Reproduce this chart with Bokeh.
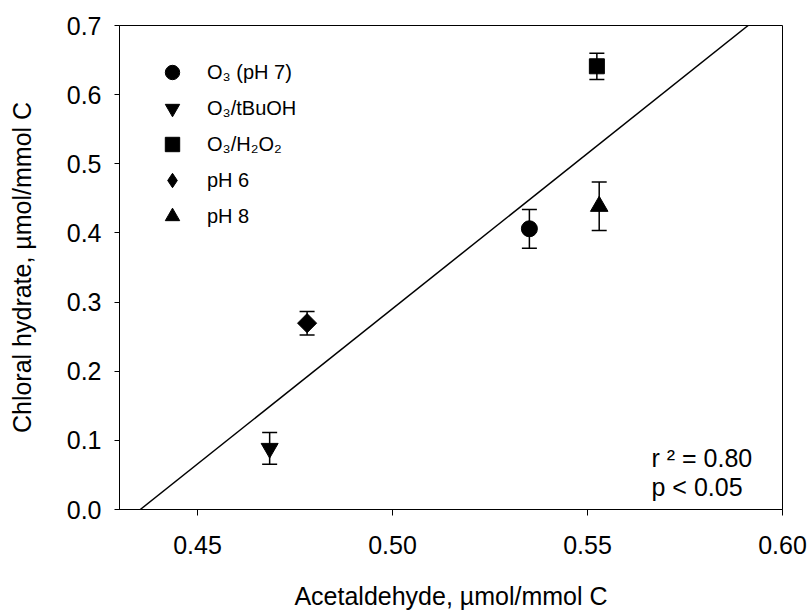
import numpy as np
from bokeh.plotting import figure
from bokeh.models import (Range1d, FixedTicker, NumeralTickFormatter, Whisker, TeeHead,
                          ColumnDataSource, Legend, LegendItem, Label)
from bokeh.embed import file_html
from bokeh.resources import INLINE

# ---- data ----
treatments = ["O\u2083 (pH 7)", "O\u2083/tBuOH", "O\u2083/H\u2082O\u2082", "pH 6", "pH 8"]
acetaldehyde = [0.5351, 0.4685, 0.5524, 0.4781, 0.5530]
chloral_hydrate = [0.406, 0.0885, 0.641, 0.2695, 0.4385]
chloral_err = [0.028, 0.023, 0.019, 0.017, 0.035]
x_ticks = [0.45, 0.50, 0.55, 0.60]
y_ticks = [0.0, 0.1, 0.2, 0.3, 0.4, 0.5, 0.6, 0.7]
stats_lines = ["r \u00b2 = 0.80", "p < 0.05"]
x_title = "Acetaldehyde, \u00b5mol/mmol C"
y_title = "Chloral hydrate, \u00b5mol/mmol C"

# ---- styles ----
FONT = "Liberation Sans"
marker_styles = ["circle", "inverted_triangle", "square", "square", "triangle"]
legend_markers = ["circle", "inverted_triangle", "square", "diamond", "triangle"]
marker_sizes = [16, 17, 15, 13.5, 17.5]
marker_angles = [0, 0, 0, np.pi / 4, 0]

p = figure(width=811, height=616, output_backend="svg", toolbar_location=None,
           x_range=Range1d(0.43, 0.60), y_range=Range1d(0.0, 0.7),
           min_border_left=119, min_border_right=29, min_border_top=25,
           min_border_bottom=107)
p.grid.visible = False
p.outline_line_color = "black"
p.outline_line_width = 1
p.background_fill_color = "white"
p.border_fill_color = "white"

for ax in (p.xaxis[0], p.yaxis[0]):
    ax.axis_line_color = "black"
    ax.major_tick_line_color = "black"
    ax.minor_tick_line_color = None
    ax.major_tick_in = 0
    ax.major_label_text_font = FONT
    ax.major_label_text_font_size = "25px"
    ax.major_label_text_color = "black"
    ax.axis_label_text_font = FONT
    ax.axis_label_text_font_size = "25px"
    ax.axis_label_text_font_style = "normal"
    ax.axis_label_text_color = "black"

p.xaxis.ticker = FixedTicker(ticks=x_ticks)
p.xaxis.formatter = NumeralTickFormatter(format="0.00")
p.xaxis.major_tick_out = 6
p.xaxis.major_label_standoff = 20
p.xaxis.axis_label = x_title
p.xaxis.axis_label_standoff = 25

p.yaxis.ticker = FixedTicker(ticks=y_ticks)
p.yaxis.formatter = NumeralTickFormatter(format="0.0")
p.yaxis.major_tick_out = 5
p.yaxis.major_label_standoff = 13
p.yaxis.axis_label = y_title
p.yaxis.axis_label_standoff = 28

# error bars
err_src = ColumnDataSource(data=dict(
    x=acetaldehyde,
    upper=[v + e for v, e in zip(chloral_hydrate, chloral_err)],
    lower=[v - e for v, e in zip(chloral_hydrate, chloral_err)],
))
p.add_layout(Whisker(source=err_src, base="x", upper="upper", lower="lower",
                     dimension="height", line_color="black", line_width=1.5,
                     upper_head=TeeHead(size=15, line_width=1.5, line_color="black"),
                     lower_head=TeeHead(size=15, line_width=1.5, line_color="black")))

# regression line computed from the data
slope, intercept = np.polyfit(acetaldehyde, chloral_hydrate, 1)
y_lo, y_hi = p.y_range.start, p.y_range.end
p.line(x=[(y_lo - intercept) / slope, (y_hi - intercept) / slope], y=[y_lo, y_hi],
       line_color="black", line_width=1.5)

items = []
for i, name in enumerate(treatments):
    legend_r = None
    if legend_markers[i] != marker_styles[i]:
        # legend key glyph (sits hidden beneath the rotated data marker)
        legend_r = p.scatter(x=[acetaldehyde[i]], y=[chloral_hydrate[i]],
                             marker=legend_markers[i], size=17,
                             fill_color="black", line_color="black")
    r = p.scatter(x=[acetaldehyde[i]], y=[chloral_hydrate[i]], marker=marker_styles[i],
                  size=marker_sizes[i], angle=marker_angles[i],
                  fill_color="black", line_color="black")
    items.append(LegendItem(label=name, renderers=[legend_r or r]))

legend = Legend(items=items, location="top_left", margin=0, padding=29,
                glyph_width=48, glyph_height=36, spacing=0, label_standoff=11,
                label_height=20,
                label_text_font=FONT, label_text_font_size="20px",
                label_text_color="black",
                border_line_alpha=0, background_fill_alpha=0)
p.add_layout(legend)

for txt, yy in zip(stats_lines, [52, 23]):
    p.add_layout(Label(x=532, y=yy, x_units="screen", y_units="screen", text=txt,
                       text_font=FONT, text_font_size="25px", text_color="black",
                       text_baseline="alphabetic"))

open("out.html", "w").write(file_html(p, INLINE))
